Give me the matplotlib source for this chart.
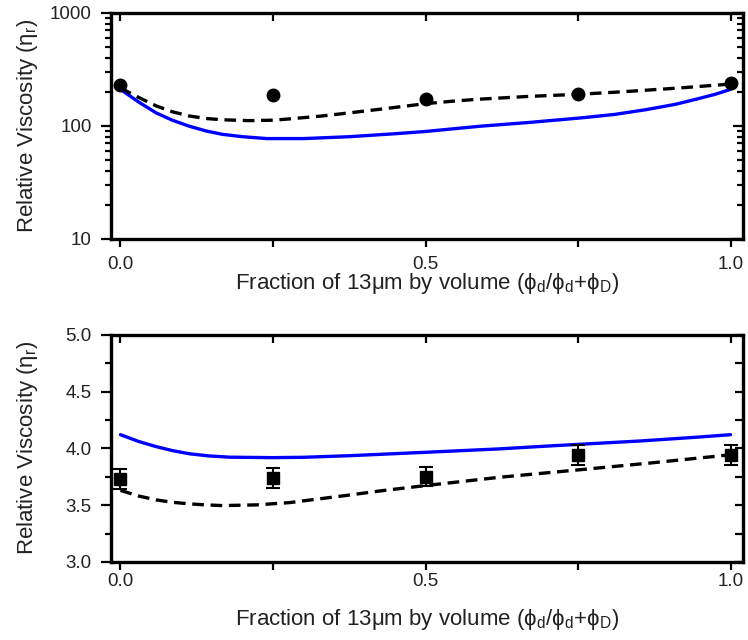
import numpy as np
import matplotlib.pyplot as plt
from matplotlib.ticker import MultipleLocator, LogLocator, NullFormatter, FixedFormatter, FixedLocator

plt.rcParams['font.family'] = ['Liberation Sans', 'DejaVu Sans']
plt.rcParams['mathtext.default'] = 'regular'

# measured points
frac = [0.0, 0.25, 0.5, 0.75, 1.0]
visc_top = [229, 187, 172, 190, 239]
visc_bot = [3.73, 3.74, 3.75, 3.94, 3.94]
err_bot = [0.085, 0.085, 0.085, 0.085, 0.085]

# model curves, top panel (log scale)
x_blue_top = [0.0, 0.03, 0.0585, 0.085, 0.113, 0.14, 0.167, 0.2, 0.24, 0.3, 0.375, 0.45, 0.5,
              0.589, 0.67, 0.752, 0.81, 0.862, 0.91, 0.944, 0.975, 1.0]
blue_top = [210, 162, 130, 112, 99, 90, 84, 80, 77, 77, 80, 85, 89,
            99, 107, 117, 126, 139, 155, 172, 190, 210]
x_dash_top = [0.0, 0.03, 0.0585, 0.085, 0.113, 0.14, 0.167, 0.211, 0.25, 0.277, 0.33, 0.375,
              0.425, 0.475, 0.5, 0.55, 0.589, 0.67, 0.752, 0.83, 0.916, 1.0]
dash_top = [216, 178, 150, 133, 122, 116, 113, 111, 112, 115, 122, 130,
            140, 151, 157, 166, 172, 182, 190, 201, 216, 234]

# model curves, bottom panel
x_blue_bot = [0.0, 0.03, 0.0585, 0.085, 0.113, 0.145, 0.179, 0.249, 0.3, 0.375, 0.5,
              0.621, 0.7, 0.785, 0.85, 0.895, 0.95, 1.0]
blue_bot = [4.12, 4.06, 4.015, 3.98, 3.952, 3.933, 3.922, 3.918, 3.921, 3.935, 3.965,
            3.995, 4.02, 4.045, 4.064, 4.08, 4.10, 4.12]
x_dash_bot = [0.0, 0.03, 0.0585, 0.085, 0.113, 0.14, 0.167, 0.223, 0.277, 0.364, 0.43, 0.5,
              0.621, 0.752, 0.867, 1.0]
dash_bot = [3.63, 3.58, 3.546, 3.525, 3.511, 3.502, 3.496, 3.502, 3.522, 3.581, 3.628, 3.672,
            3.745, 3.811, 3.87, 3.943]

fig = plt.figure(figsize=(7.48, 6.4), dpi=100)
ax1 = fig.add_axes([0.148, 0.627, 0.845, 0.353])
ax2 = fig.add_axes([0.148, 0.122, 0.845, 0.355])

xlabel = r'Fraction of 13$\mu$m by volume ($\phi_d$/$\phi_d$+$\phi_D$)'
ylabel = r'Relative Viscosity ($\eta_r$)'
dash = (0, (3.5, 2))

# top: log scale
ax1.plot(x_blue_top, blue_top, color='#0000ff', lw=2.4, solid_capstyle='round')
ax1.plot(x_dash_top, dash_top, color='black', lw=2.4, ls=dash)
ax1.plot(frac, visc_top, 'o', color='black', ms=9)
ax1.set_yscale('log')
ax1.set_ylim(10, 1000)
ax1.yaxis.set_major_locator(FixedLocator([10, 100, 1000]))
ax1.yaxis.set_major_formatter(FixedFormatter(['10', '100', '1000']))
ax1.yaxis.set_minor_locator(LogLocator(base=10, subs=np.arange(2, 10)))
ax1.yaxis.set_minor_formatter(NullFormatter())

# bottom: linear
ax2.plot(x_blue_bot, blue_bot, color='#0000ff', lw=2.4, solid_capstyle='round')
ax2.plot(x_dash_bot, dash_bot, color='black', lw=2.4, ls=dash)
ax2.errorbar(frac, visc_bot, yerr=err_bot, fmt='s', color='black', ms=9,
             capsize=5, elinewidth=1.5, capthick=1.5)
ax2.set_ylim(3.0, 5.0)
ax2.yaxis.set_major_locator(MultipleLocator(0.5))
ax2.yaxis.set_minor_locator(MultipleLocator(0.25))
ax2.yaxis.set_major_formatter(plt.FormatStrFormatter('%.1f'))

for ax, xpad, xlab_y in ((ax1, 6.5, -0.2), (ax2, 2.5, -0.255)):
    ax.set_xlim(-0.016, 1.02)
    ax.xaxis.set_major_locator(MultipleLocator(0.5))
    ax.xaxis.set_minor_locator(MultipleLocator(0.25))
    ax.xaxis.set_major_formatter(plt.FormatStrFormatter('%.1f'))
    for s in ax.spines.values():
        s.set_linewidth(2.4)
    ax.tick_params(which='both', direction='out', width=1.6, labelsize=13.5,
                   colors='black', labelcolor='#222222')
    ax.tick_params(axis='y', which='major', length=7.2, pad=6.5)
    ax.tick_params(axis='y', which='minor', length=4.3)
    ax.tick_params(axis='x', which='both', length=5.8, pad=xpad)
    # mirrored ticks pointing inward
    sec_x = ax.secondary_xaxis('top')
    sec_x.xaxis.set_major_locator(MultipleLocator(0.25))
    sec_x.tick_params(direction='in', length=5.8, width=1.6, labeltop=False)
    sec_y = ax.secondary_yaxis('right')
    if ax is ax1:
        sec_y.set_yscale('log')
        sec_y.yaxis.set_major_locator(FixedLocator([10, 100, 1000]))
        sec_y.yaxis.set_minor_locator(LogLocator(base=10, subs=np.arange(2, 10)))
        sec_y.yaxis.set_minor_formatter(NullFormatter())
        sec_y.tick_params(which='major', length=7.2)
        sec_y.tick_params(which='minor', length=4.3)
    else:
        sec_y.yaxis.set_major_locator(MultipleLocator(0.25))
        sec_y.tick_params(length=5.8)
    sec_y.tick_params(which='both', direction='in', width=1.6, labelright=False)
    for s in sec_x.spines.values():
        s.set_visible(False)
    for s in sec_y.spines.values():
        s.set_visible(False)
    ax.set_xlabel(xlabel, fontsize=16, color='#222222')
    ax.set_ylabel(ylabel, fontsize=16, color='#222222')
    ax.xaxis.set_label_coords(0.5, xlab_y, transform=ax.transAxes)
    ax.yaxis.set_label_coords(-0.132, 0.5, transform=ax.transAxes)
    ax.xaxis.label.set_va('center')
    ax.yaxis.label.set_va('center')

fig.savefig('out.png', dpi=100)
